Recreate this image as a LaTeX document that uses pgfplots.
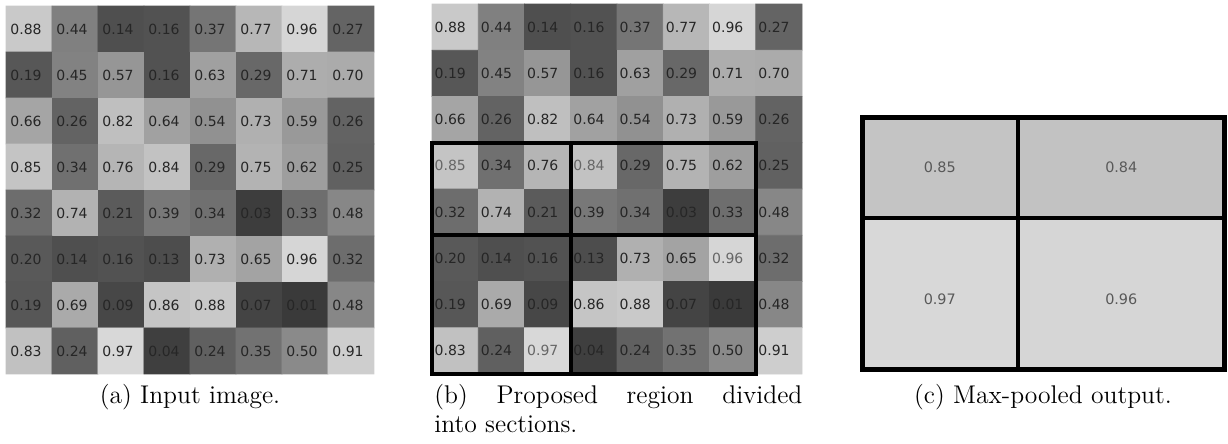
\documentclass[border=0pt]{standalone}
\usepackage{pgfplots}
\pgfplotsset{compat=1.18}
\usepackage{pgfplotstable}
\usepackage{fontspec}
\newfontfamily\dv{DejaVu Sans}
\pgfplotstableread{
x y v h
0.5 0.5 0.88 0
1.5 0.5 0.44 0
2.5 0.5 0.14 0
3.5 0.5 0.16 0
4.5 0.5 0.37 0
5.5 0.5 0.77 0
6.5 0.5 0.96 0
7.5 0.5 0.27 0
0.5 1.5 0.19 0
1.5 1.5 0.45 0
2.5 1.5 0.57 0
3.5 1.5 0.16 0
4.5 1.5 0.63 0
5.5 1.5 0.29 0
6.5 1.5 0.71 0
7.5 1.5 0.70 0
0.5 2.5 0.66 0
1.5 2.5 0.26 0
2.5 2.5 0.82 0
3.5 2.5 0.64 0
4.5 2.5 0.54 0
5.5 2.5 0.73 0
6.5 2.5 0.59 0
7.5 2.5 0.26 0
0.5 3.5 0.85 1
1.5 3.5 0.34 0
2.5 3.5 0.76 0
3.5 3.5 0.84 1
4.5 3.5 0.29 0
5.5 3.5 0.75 0
6.5 3.5 0.62 0
7.5 3.5 0.25 0
0.5 4.5 0.32 0
1.5 4.5 0.74 0
2.5 4.5 0.21 0
3.5 4.5 0.39 0
4.5 4.5 0.34 0
5.5 4.5 0.03 0
6.5 4.5 0.33 0
7.5 4.5 0.48 0
0.5 5.5 0.20 0
1.5 5.5 0.14 0
2.5 5.5 0.16 0
3.5 5.5 0.13 0
4.5 5.5 0.73 0
5.5 5.5 0.65 0
6.5 5.5 0.96 1
7.5 5.5 0.32 0
0.5 6.5 0.19 0
1.5 6.5 0.69 0
2.5 6.5 0.09 0
3.5 6.5 0.86 0
4.5 6.5 0.88 0
5.5 6.5 0.07 0
6.5 6.5 0.01 0
7.5 6.5 0.48 0
0.5 7.5 0.83 0
1.5 7.5 0.24 0
2.5 7.5 0.97 1
3.5 7.5 0.04 0
4.5 7.5 0.24 0
5.5 7.5 0.35 0
6.5 7.5 0.50 0
7.5 7.5 0.91 0
}\gridtab
\pgfplotstableread{
x y v
0 0 0.85
3 0 0.85
3 2 0.85
0 2 0.85
3 0 0.84
7 0 0.84
7 2 0.84
3 2 0.84
0 2 0.97
3 2 0.97
3 5 0.97
0 5 0.97
3 2 0.96
7 2 0.96
7 5 0.96
3 5 0.96
}\pooltab
\pgfplotstableread{
x y v
1.5 1 0.85
5 1 0.84
1.5 3.6 0.97
5 3.6 0.96
}\pooltext
\pgfplotsset{
  cellaxis/.style={scale only axis, hide axis, clip=false,
    xmin=0, xmax=8, ymin=0, ymax=8, y dir=reverse,
    point meta min=0, point meta max=1,
    colormap={bw}{gray(0cm)=(0.22); gray(1cm)=(0.86)}},
  celltext/.style={only marks, mark=none, nodes near coords,
    point meta=explicit symbolic, nodes near coords align={anchor=west},
    every node near coord/.append style={font=\dv\fontsize{7}{8}\selectfont, inner sep=0pt}},
}
\begin{document}
\begin{tikzpicture}
\path[use as bounding box] (0,0) rectangle (614pt,-222pt);
% (a)
\begin{axis}[cellaxis, at={(3pt,-3pt)}, anchor=north west, width=184pt, height=184pt]
\addplot[matrix plot*, mesh/cols=8, mesh/ordering=x varies, point meta=\thisrow{v}] table[x=x, y=y] {\gridtab};
\addplot[celltext, every node near coord/.append style={text=black!85}] table[x expr=\thisrow{x}-0.413, y=y, meta=v] {\gridtab};
\end{axis}
% (b)
\begin{axis}[cellaxis, at={(216pt,-2pt)}, anchor=north west, width=185pt, height=185pt]
\addplot[matrix plot*, mesh/cols=8, mesh/ordering=x varies, point meta=\thisrow{v}] table[x=x, y=y] {\gridtab};
\addplot[celltext, restrict expr to domain={\thisrow{h}}{0:0}, every node near coord/.append style={text=black!85}] table[x expr=\thisrow{x}-0.45, y=y, meta=v] {\gridtab};
\addplot[celltext, restrict expr to domain={\thisrow{h}}{1:1}, every node near coord/.append style={text=black!60}] table[x expr=\thisrow{x}-0.45, y=y, meta=v] {\gridtab};
\draw[line width=2pt] (axis cs:0,3) rectangle (axis cs:7,8);
\draw[line width=2pt] (axis cs:3,3) -- (axis cs:3,8);
\draw[line width=2pt] (axis cs:0,5) -- (axis cs:7,5);
\end{axis}
% (c)
\begin{axis}[scale only axis, hide axis, clip=false, at={(431pt,-58.5pt)}, anchor=north west,
  width=181.5pt, height=126.5pt, xmin=0, xmax=7, ymin=0, ymax=5, y dir=reverse,
  point meta min=0, point meta max=1,
  colormap={bw}{gray(0cm)=(0.22); gray(1cm)=(0.86)}]
\addplot[patch, patch type=rectangle, shader=flat, point meta=\thisrow{v}] table[x=x, y=y] {\pooltab};
\addplot[only marks, mark=none, nodes near coords, point meta=explicit symbolic,
  nodes near coords align={anchor=center},
  every node near coord/.append style={font=\dv\fontsize{7.2}{8}\selectfont, text=black!65, inner sep=0pt}]
  table[x=x, y=y, meta=v] {\pooltext};
\draw[line width=2.5pt] (axis cs:0,0) rectangle (axis cs:7,5);
\draw[line width=2pt] (axis cs:3,0) -- (axis cs:3,5);
\draw[line width=2pt] (axis cs:0,2) -- (axis cs:7,2);
\end{axis}
% captions
\node[anchor=base, font=\fontsize{12.8}{15.5}\selectfont, inner sep=0pt] at (95pt,-201.8pt) {(a) Input image.};
\node[anchor=base west, font=\fontsize{12.8}{15.5}\selectfont, inner sep=0pt] at (217pt,-201.8pt)
  {\makebox[184pt][s]{(b) Proposed region divided}};
\node[anchor=base west, font=\fontsize{12.8}{15.5}\selectfont, inner sep=0pt] at (217pt,-216.3pt)
  {into sections.};
\node[anchor=base, font=\fontsize{12.8}{15.5}\selectfont, inner sep=0pt] at (521.5pt,-201.8pt) {(c) Max-pooled output.};
\end{tikzpicture}
\end{document}
